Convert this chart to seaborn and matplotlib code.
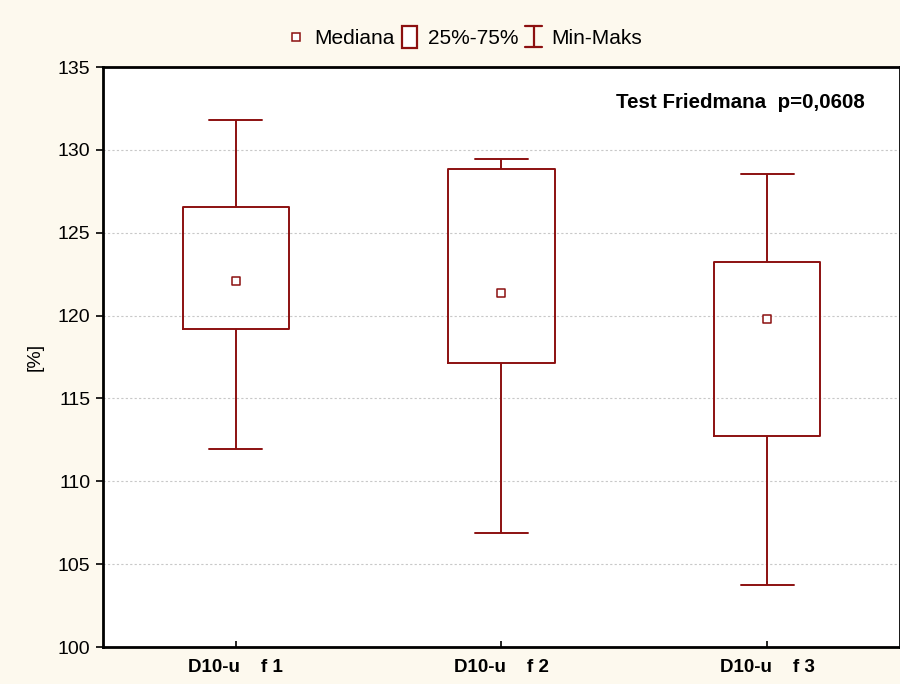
import numpy as np
import pandas as pd
import matplotlib
matplotlib.use("Agg")
import matplotlib.pyplot as plt
import seaborn as sns
from matplotlib.lines import Line2D
from matplotlib.patches import Rectangle
from matplotlib.legend_handler import HandlerBase

categories = ["D10-u    f 1", "D10-u    f 2", "D10-u    f 3"]
mins = [111.95, 106.85, 103.75]
q1s = [119.2, 117.15, 112.75]
medians = [122.1, 121.35, 119.8]
q3s = [126.55, 128.85, 123.25]
maxs = [131.8, 129.45, 128.55]
yticks = [100, 105, 110, 115, 120, 125, 130, 135]
legend_labels = ["Mediana", "25%-75%", "Min-Maks"]
annotation = "Test Friedmana  p=0,0608"

RED = "#8c1010"
BG = "#fdf9ee"

sns.set_theme(style="white")
plt.rcParams["font.family"] = ["Liberation Sans", "DejaVu Sans"]
plt.rcParams["text.color"] = "black"
plt.rcParams["axes.labelcolor"] = "black"
plt.rcParams["xtick.color"] = "black"
plt.rcParams["ytick.color"] = "black"

# five-number summaries as rows (quartiles of 5 points = 2nd and 4th value)
rows = []
for c, a, b, m, d, e in zip(categories, mins, q1s, medians, q3s, maxs):
    for v in (a, b, m, d, e):
        rows.append({"cat": c, "val": v})
df = pd.DataFrame(rows)
med_df = pd.DataFrame({"cat": categories, "val": medians})

fig = plt.figure(figsize=(9, 6.84), dpi=100, facecolor=BG)
ax = fig.add_axes([103 / 900, 37 / 684, 797 / 900, 580 / 684])
ax.set_facecolor("white")

lw = 1.4
sns.boxplot(data=df, x="cat", y="val", order=categories, whis=np.inf, width=0.4,
            fill=False, color=RED, linewidth=lw, ax=ax,
            boxprops=dict(color=RED, linewidth=lw),
            whiskerprops=dict(color=RED, linewidth=lw),
            capprops=dict(color=RED, linewidth=lw),
            medianprops=dict(linewidth=0, alpha=0))
sns.scatterplot(data=med_df, x="cat", y="val", marker="s", s=36,
                facecolor="white", edgecolor=RED, linewidth=1.1, ax=ax, zorder=5)

ax.set_xlim(-0.5, 2.5)
ax.set_ylim(100, 135)
ax.set_yticks(yticks)
ax.set_yticklabels([str(t) for t in yticks], fontsize=14, color="black")
ax.set_xticks(range(len(categories)))
ax.set_xticklabels(categories, fontsize=13.5, fontweight="bold", color="black")
ax.tick_params(axis="y", direction="out", length=5, width=1.2, color="black", pad=4, left=True)
ax.tick_params(axis="x", direction="in", length=4, width=1.2, color="black", pad=9, bottom=True)
ax.set_xlabel("")
ax.set_ylabel("[%]", fontsize=14, labelpad=10, color="black")
ax.yaxis.grid(True, linestyle=(0, (2, 2)), color="#c8c8c8", linewidth=0.8)
ax.set_axisbelow(True)
for s in ax.spines.values():
    s.set_color("black")
    s.set_linewidth(2)
    s.set_visible(True)

ax.text(0.956, 0.938, annotation, transform=ax.transAxes, ha="right", va="center",
        fontsize=14.8, fontweight="bold", color="black")


class IBeamHandler(HandlerBase):
    def create_artists(self, legend, orig_handle, xdescent, ydescent, width, height, fontsize, trans):
        cx = width / 2 - xdescent
        y0 = -ydescent - 2
        y1 = height - ydescent + 2
        hw = 6
        l1 = Line2D([cx, cx], [y0, y1], color=RED, lw=1.6, transform=trans)
        l2 = Line2D([cx - hw, cx + hw], [y1, y1], color=RED, lw=1.6, transform=trans)
        l3 = Line2D([cx - hw, cx + hw], [y0, y0], color=RED, lw=1.6, transform=trans)
        return [l1, l2, l3]


class BoxHandler(HandlerBase):
    def create_artists(self, legend, orig_handle, xdescent, ydescent, width, height, fontsize, trans):
        w = 11
        h = height + 5
        cx = width / 2 - xdescent
        r = Rectangle((cx - w / 2, -ydescent - 3), w, h, facecolor="white",
                      edgecolor=RED, lw=1.6, transform=trans)
        return [r]


h_med = Line2D([], [], marker="s", linestyle="none", markersize=6,
               markerfacecolor="white", markeredgecolor=RED, markeredgewidth=1.1)


class _Box: pass
class _IB: pass
hb, hi = _Box(), _IB()

fig.legend([h_med, hb, hi], legend_labels, loc="center", bbox_to_anchor=(0.516, 0.944),
           ncol=3, frameon=False, fontsize=15, handlelength=0.9, handletextpad=0.4,
           columnspacing=0.3, handler_map={_Box: BoxHandler(), _IB: IBeamHandler()})

fig.savefig("out.png", dpi=100, facecolor=BG)
